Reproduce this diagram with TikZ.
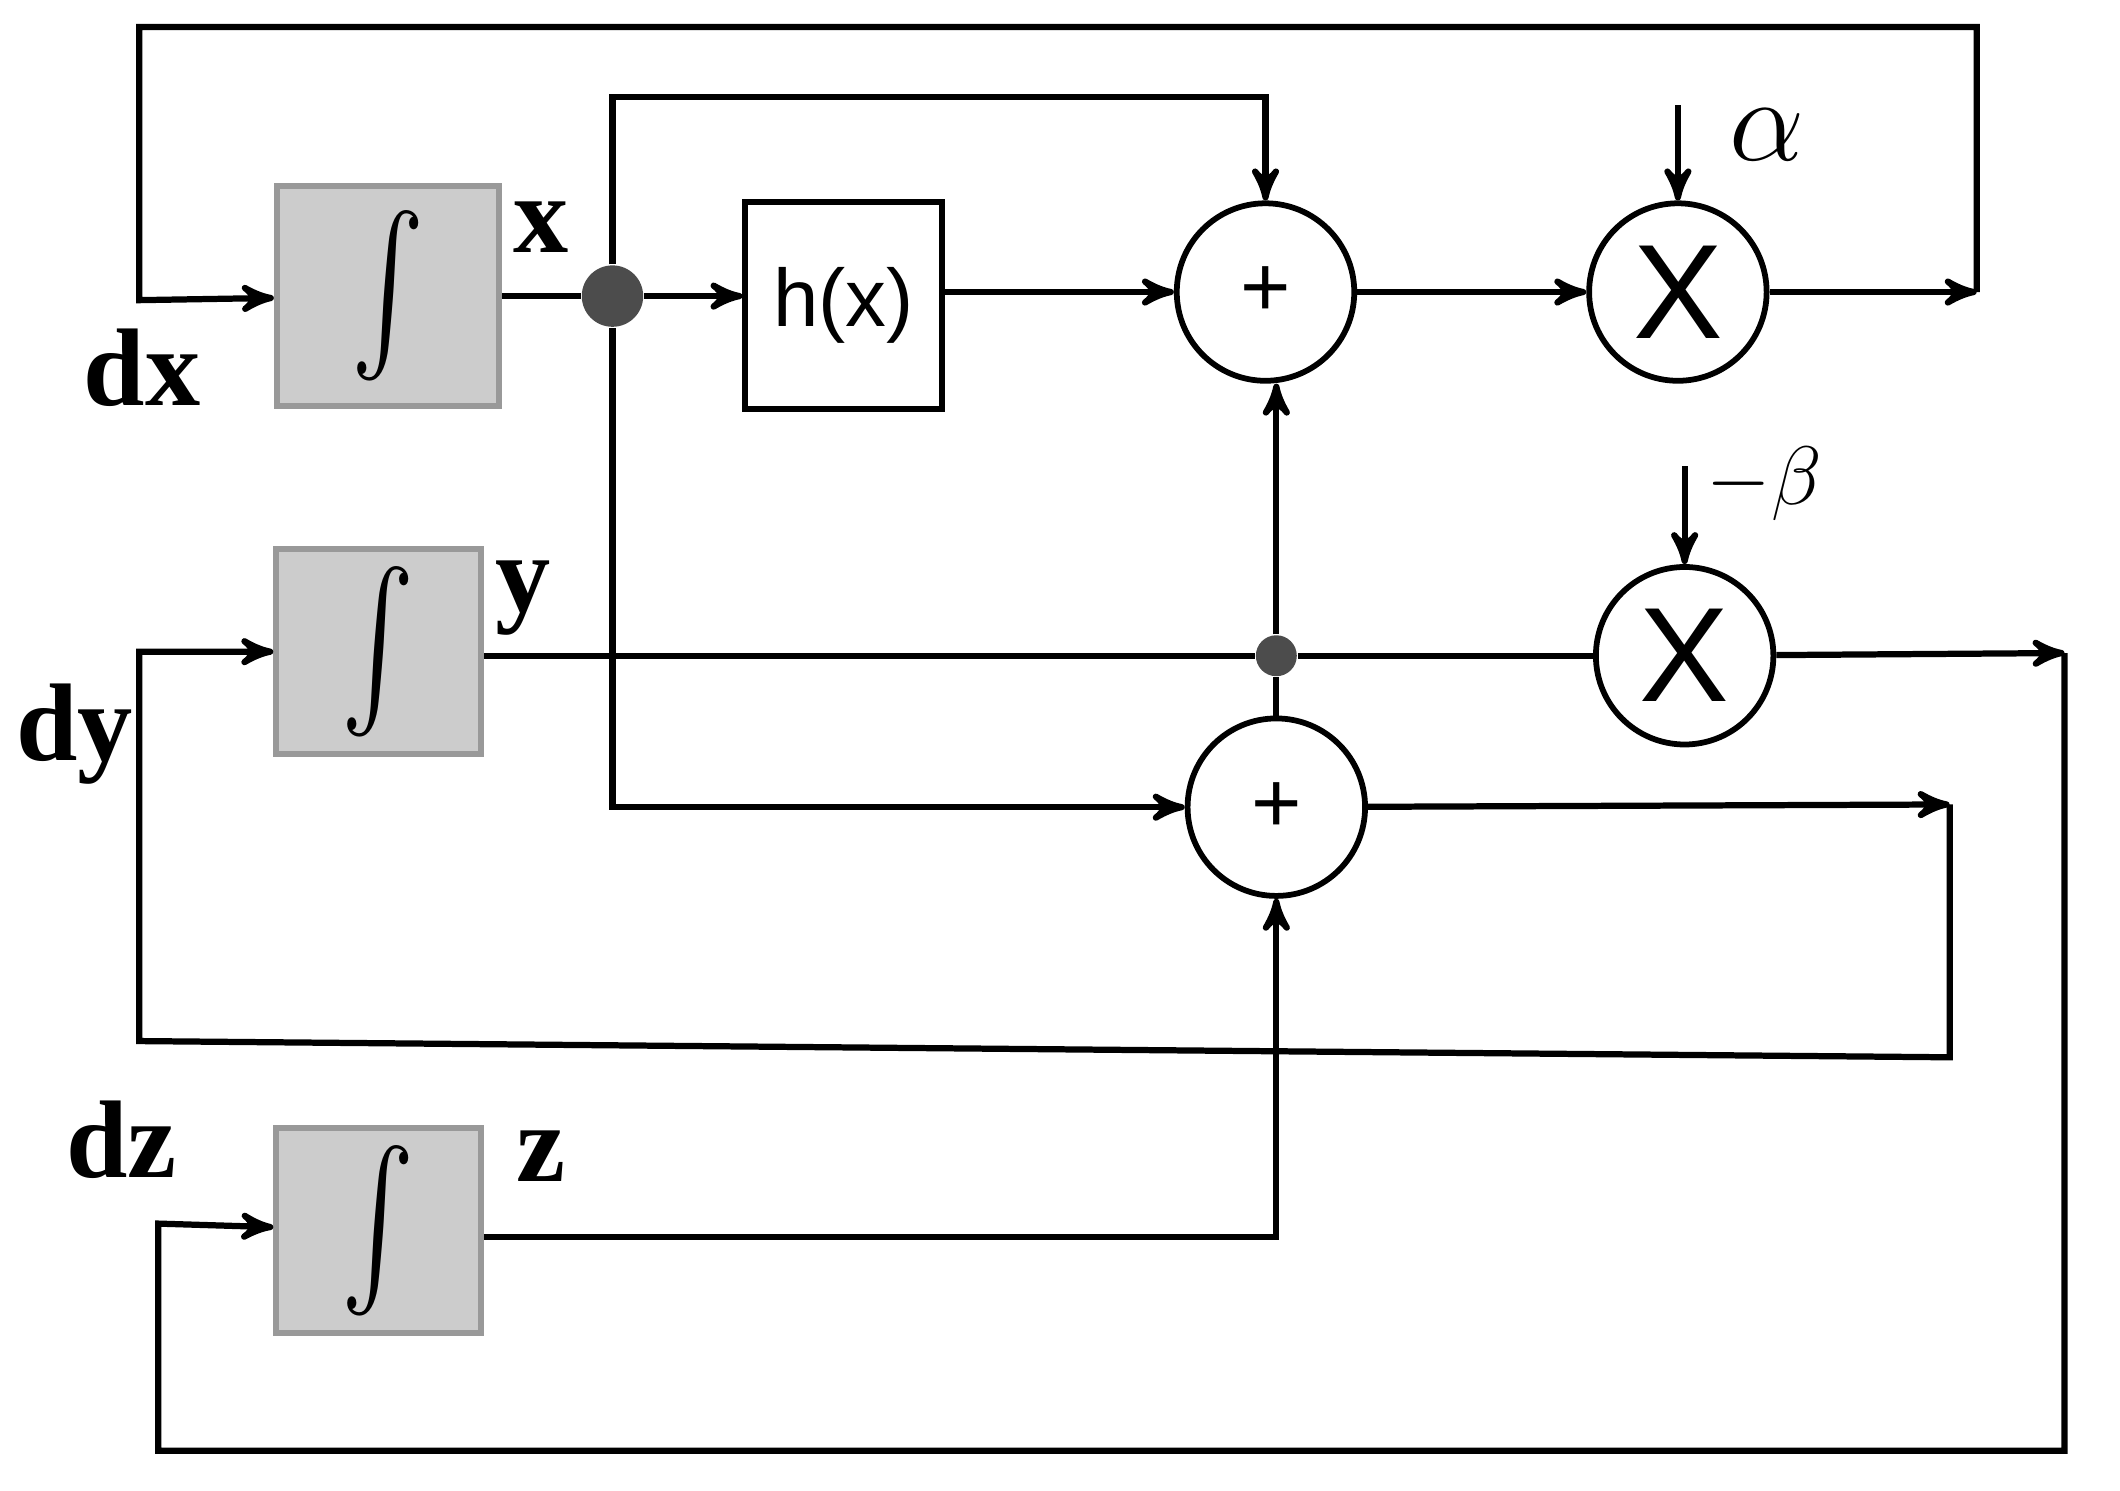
\documentclass[tikz,border=0pt]{standalone}
\usepackage{fontspec}
\setmainfont{Liberation Serif}
\newfontfamily\arial{Liberation Sans}
\usetikzlibrary{positioning}
\usetikzlibrary{arrows}
\tikzset{
  integ/.style={draw=gray!80, fill=gray!40, line width=1.2pt, minimum width=1.5cm, minimum height=1.5cm},
  opr/.style={circle, draw, line width=1.2pt, minimum size=1.3cm, inner sep=0pt, font=\arial\fontsize{18}{18}\selectfont},
  lbl/.style={font=\bfseries\fontsize{23}{23}\selectfont},
  flow/.style={line width=1.3pt, -stealth'},
  wire/.style={line width=1.3pt}
}
\begin{document}
\begin{tikzpicture}[x=0.0099cm, y=-0.0099cm]
			\useasboundingbox (0,0) rectangle (1568,1102.6);
			\node[integ, minimum width=1.63cm, minimum height=1.61cm] (IX) at (287,219) {\scalebox{2.3}[3.2]{$\int$}};
			\node[integ] (IY) at (280,482) {\scalebox{2.3}[3.2]{$\int$}};
			\node[integ] (IZ) at (280,910) {\scalebox{2.3}[3.2]{$\int$}};
			\node[circle, fill, gray!60!black, minimum size=0.45cm, inner sep=0pt] (D1) at (453,219) {};
			\node[circle, fill, gray!60!black, minimum size=0.3cm, inner sep=0pt] (D2) at (944,485) {};
			\node[draw, line width=1.2pt, minimum width=1.44cm, minimum height=1.52cm, font=\arial\fontsize{17}{17}\selectfont] (H) at (624,226) {h(x)};
			\node[opr] (S1) at (936,216) {+};
			\node[opr] (M1) at (1241,216) {\fontsize{28}{28}\selectfont X};
			\node[opr] (M2) at (1246,485) {\fontsize{28}{28}\selectfont X};
			\node[opr] (S2) at (944,597) {+};
			
			\node[lbl] (LX) at (400,168) {x};
			\node[lbl] (LY) at (387,442) {y};
			\node[lbl] (LZ) at (400,855) {z};
			\node[lbl] (LDX) at (105,272) {dx};
			\node[lbl] (LDY) at (55,543) {dy};
			\node[lbl] (LDZ) at (90,843) {dz};
			\node[font=\fontsize{32}{32}\selectfont] (LA) at (1307,100) {$\alpha$};
			\node[font=\fontsize{18}{18}\selectfont] (LB) at (1305,358) {$-\beta$};
			
			\coordinate (A0) at (1241,78);
			\coordinate (B0) at (1246,345);
			\coordinate (R1) at (1462,216);
			\coordinate (R2) at (1527,483);
			\coordinate (R3) at (1442,595);
			
			\draw[wire] (IX) -- (D1);
			\draw[flow] (D1) -- (H.west |- D1);
			\draw[flow] (D1) |- (936,72) -- (S1);
			\draw[flow] (D1) |- (S2);
			\draw[flow] (H.east |- S1) -- (S1);
			\draw[flow] (S1) -- (M1);
			\draw[flow] (A0) -- (M1);
			\draw[flow] (M1) -- (R1);
			\draw[flow] (R1) -- (1462,20) -| (103,222) -- (IX);
			\draw[wire] (IY.east |- D2) -- (D2) -- (M2);
			\draw[flow] (D2) -- (D2 |- S1.south);
			\draw[wire] (D2) -- (S2);
			\draw[flow] (B0) -- (M2);
			\draw[flow] (M2) -- (R2);
			\draw[flow] (R2) -- (1527,1073) -| (117,905) -- (IZ);
			\draw[flow] (S2) -- (R3);
			\draw[flow] (R3) -- (1442,782) -- (103,770) |- (IY);
			\draw[flow] (IZ.east |- 0,915) -| (S2);
			\end{tikzpicture}
\end{document}
